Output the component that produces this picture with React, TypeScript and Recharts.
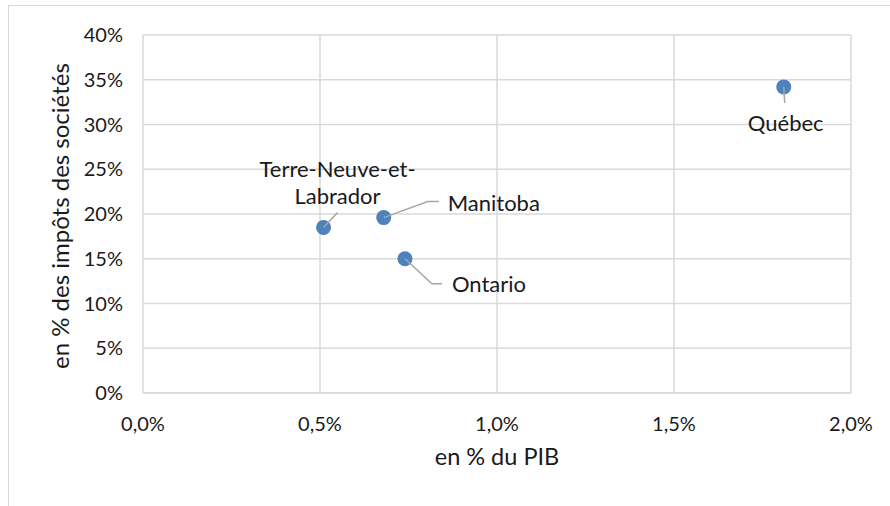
import React from "react";
import { ScatterChart, Scatter, XAxis, YAxis, CartesianGrid } from "recharts";

const provinces = ["Terre-Neuve-et-Labrador", "Manitoba", "Ontario", "Québec"];
const pibShare = [0.51, 0.68, 0.74, 1.81];
const corpTaxShare = [18.5, 19.6, 15.0, 34.2];
const xTicks = [0, 0.5, 1, 1.5, 2];
const yTicks = [0, 5, 10, 15, 20, 25, 30, 35, 40];

// leader lines + label placement, relative to the point centre
const labelLayout: Record<string, any> = {
  "Terre-Neuve-et-Labrador": {
    line: [[0, 0], [14, -15]],
    dx: 14,
    dy: -32,
    anchor: "middle",
    lines: ["Terre-Neuve-et-", "Labrador"],
  },
  Manitoba: { line: [[0, 0], [44, -16], [55, -16]], dx: 64, dy: -15, anchor: "start", lines: ["Manitoba"] },
  Ontario: { line: [[0, 0], [27, 25], [37, 25]], dx: 47, dy: 25, anchor: "start", lines: ["Ontario"] },
  Québec: { line: [[0, 0], [1, 16]], dx: 2, dy: 36, anchor: "middle", lines: ["Québec"] },
};

const data = provinces.map((name, i) => ({ name, x: pibShare[i], y: corpTaxShare[i] }));

const FONT = "Lato, 'Liberation Sans', sans-serif";
const TEXT = "#1a1a1a";

const fmtX = (v: number) => v.toFixed(1).replace(".", ",") + "%";
const fmtY = (v: number) => v + "%";

function PointWithLabel(props: any) {
  const { cx, cy, payload } = props;
  const l = labelLayout[payload.name];
  const pts = l.line.map((p: number[]) => `${cx + p[0]},${cy + p[1]}`).join(" ");
  const lineH = 27;
  const startY = cy + l.dy - (l.lines.length - 1) * lineH;
  return (
    <g>
      <circle cx={cx} cy={cy} r={7.5} fill="#4f81bd" />
      <polyline points={pts} fill="none" stroke="#a6a6a6" strokeWidth={1.5} />
      {l.lines.map((t: string, k: number) => (
        <text
          key={k}
          x={cx + l.dx}
          y={startY + k * lineH}
          textAnchor={l.anchor}
          dominantBaseline="central"
          fontSize={22}
          fontFamily={FONT}
          fill={TEXT}
        >
          {t}
        </text>
      ))}
    </g>
  );
}

export default function App() {
  return (
    <div style={{ position: "absolute", left: 0, top: 0, width: 890, height: 506, background: "#fff" }}>
      <div
        style={{
          position: "absolute",
          left: 8,
          top: 5,
          width: 890,
          height: 510,
          borderTop: "1.5px solid #d9d9d9",
          borderLeft: "1.5px solid #d9d9d9",
        }}
      />
      <ScatterChart
        width={890}
        height={506}
        margin={{ top: 35, right: 39, bottom: 43, left: 83 }}
        style={{ position: "absolute", left: 0, top: 0 }}
      >
        <CartesianGrid stroke="#d9d9d9" strokeWidth={1.5} />
        <XAxis
          type="number"
          dataKey="x"
          domain={[0, 2]}
          ticks={xTicks}
          tickFormatter={fmtX}
          axisLine={{ stroke: "#d9d9d9", strokeWidth: 1.5 }}
          tickLine={false}
          tickSize={0}
          tickMargin={24}
          height={70}
          tick={{ fontSize: 20, fontFamily: FONT, fill: TEXT }}
          label={{
            value: "en % du PIB",
            position: "insideBottom",
            offset: -2,
            style: { fontSize: 23.5, fontFamily: FONT, fill: TEXT },
          }}
        />
        <YAxis
          type="number"
          dataKey="y"
          domain={[0, 40]}
          ticks={yTicks}
          tickFormatter={fmtY}
          axisLine={false}
          tickLine={false}
          tickSize={0}
          tickMargin={20}
          width={60}
          tick={{ fontSize: 20, fontFamily: FONT, fill: TEXT }}
          label={{
            value: "en % des impôts des sociétés",
            angle: -90,
            position: "insideLeft",
            offset: -23,
            dy: 155,
            style: { fontSize: 24, fontFamily: FONT, fill: TEXT },
          }}
        />
        <Scatter data={data} shape={PointWithLabel} isAnimationActive={false} />
      </ScatterChart>
    </div>
  );
}
